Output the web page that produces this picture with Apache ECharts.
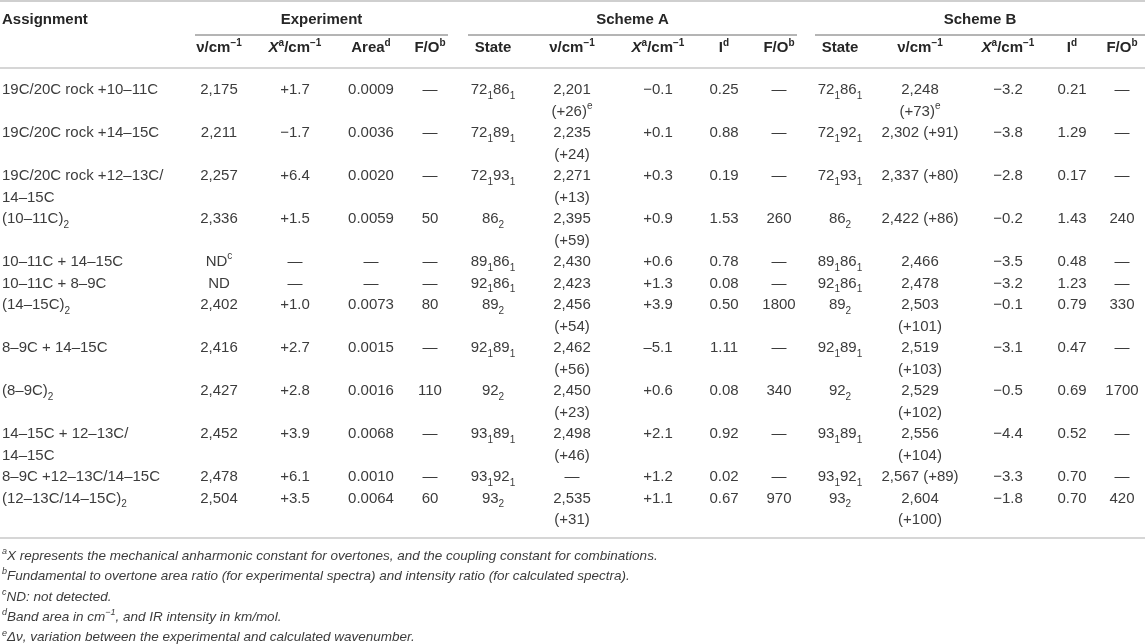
<!DOCTYPE html>
<html>
<head>
<meta charset="utf-8">
<script src="https://cdn.jsdelivr.net/npm/echarts@6/dist/echarts.min.js"></script>
<style>
  html, body { margin: 0; padding: 0; background: #fff; }
  #main { width: 1145px; height: 644px; }
</style>
</head>
<body>
<div id="main"></div>
<script>
// table data, one array per column ({sub|..} / {sup|..} are rich-text tags)
const assignments = [
  '19C/20C rock +10–11C', '19C/20C rock +14–15C', '19C/20C rock +12–13C/\n14–15C',
  '(10–11C){sub|2}', '10–11C + 14–15C', '10–11C + 8–9C', '(14–15C){sub|2}',
  '8–9C + 14–15C', '(8–9C){sub|2}', '14–15C + 12–13C/\n14–15C',
  '8–9C +12–13C/14–15C', '(12–13C/14–15C){sub|2}'
]
const expNu = ['2,175', '2,211', '2,257', '2,336', 'ND{sup|c}', 'ND', '2,402', '2,416', '2,427', '2,452', '2,478', '2,504']
const expX = ['+1.7', '−1.7', '+6.4', '+1.5', '—', '—', '+1.0', '+2.7', '+2.8', '+3.9', '+6.1', '+3.5']
const expArea = ['0.0009', '0.0036', '0.0020', '0.0059', '—', '—', '0.0073', '0.0015', '0.0016', '0.0068', '0.0010', '0.0064']
const expFO = ['—', '—', '—', '50', '—', '—', '80', '—', '110', '—', '—', '60']

const stateA = ['72{sub|1}86{sub|1}', '72{sub|1}89{sub|1}', '72{sub|1}93{sub|1}', '86{sub|2}', '89{sub|1}86{sub|1}',
  '92{sub|1}86{sub|1}', '89{sub|2}', '92{sub|1}89{sub|1}', '92{sub|2}', '93{sub|1}89{sub|1}', '93{sub|1}92{sub|1}', '93{sub|2}']
const nuA = ['2,201\n(+26){sup|e}', '2,235\n(+24)', '2,271\n(+13)', '2,395\n(+59)', '2,430', '2,423',
  '2,456\n(+54)', '2,462\n(+56)', '2,450\n(+23)', '2,498\n(+46)', '—', '2,535\n(+31)']
const xA = ['−0.1', '+0.1', '+0.3', '+0.9', '+0.6', '+1.3', '+3.9', '–5.1', '+0.6', '+2.1', '+1.2', '+1.1']
const iA = ['0.25', '0.88', '0.19', '1.53', '0.78', '0.08', '0.50', '1.11', '0.08', '0.92', '0.02', '0.67']
const foA = ['—', '—', '—', '260', '—', '—', '1800', '—', '340', '—', '—', '970']

const stateB = ['72{sub|1}86{sub|1}', '72{sub|1}92{sub|1}', '72{sub|1}93{sub|1}', '86{sub|2}', '89{sub|1}86{sub|1}',
  '92{sub|1}86{sub|1}', '89{sub|2}', '92{sub|1}89{sub|1}', '92{sub|2}', '93{sub|1}89{sub|1}', '93{sub|1}92{sub|1}', '93{sub|2}']
const nuB = ['2,248\n(+73){sup|e}', '2,302 (+91)', '2,337 (+80)', '2,422 (+86)', '2,466', '2,478',
  '2,503\n(+101)', '2,519\n(+103)', '2,529\n(+102)', '2,556\n(+104)', '2,567 (+89)', '2,604\n(+100)']
const xB = ['−3.2', '−3.8', '−2.8', '−0.2', '−3.5', '−3.2', '−0.1', '−3.1', '−0.5', '−4.4', '−3.3', '−1.8']
const iB = ['0.21', '1.29', '0.17', '1.43', '0.48', '1.23', '0.79', '0.47', '0.69', '0.52', '0.70', '0.70']
const foB = ['—', '—', '—', '240', '—', '—', '330', '—', '1700', '—', '—', '420']

const groupHeads = ['Experiment', 'Scheme A', 'Scheme B']
const colHeads = ['', 'ν/cm{hsup|−1}', '{hit|X}{hsup|a}/cm{hsup|−1}', 'Area{hsup|d}', 'F/O{hsup|b}',
  'State', 'ν/cm{hsup|−1}', '{hit|X}{hsup|a}/cm{hsup|−1}', 'I{hsup|d}', 'F/O{hsup|b}',
  'State', 'ν/cm{hsup|−1}', '{hit|X}{hsup|a}/cm{hsup|−1}', 'I{hsup|d}', 'F/O{hsup|b}']
const footnotes = [
  '{fsup|a}X represents the mechanical anharmonic constant for overtones, and the coupling constant for combinations.',
  '{fsup|b}Fundamental to overtone area ratio (for experimental spectra) and intensity ratio (for calculated spectra).',
  '{fsup|c}ND: not detected.',
  '{fsup|d}Band area in cm{fsup|−1}, and IR intensity in km/mol.',
  '{fsup|e}Δν, variation between the experimental and calculated wavenumber.'
]

const columns = [assignments, expNu, expX, expArea, expFO, stateA, nuA, xA, iA, foA, stateB, nuB, xB, iB, foB]

// layout
const colX = [2, 219, 295, 371, 430, 493, 572, 658, 724, 779, 840, 920, 1008, 1072, 1122]
const groupSpan = [[195, 448], [468, 797], [815, 1145]]
const lineH = 21.5
const FONT = "'Liberation Sans', Arial, Helvetica, sans-serif"
const textColor = '#3c3c3c'
const headColor = '#262626'

// each row takes as many text lines as its tallest cell
const rowStart = []
let lineCount = 0
assignments.forEach((_, r) => {
  rowStart.push(lineCount)
  lineCount += Math.max(...columns.map(col => col[r].split('\n').length))
})
const lineCats = Array.from({ length: lineCount }, (_, i) => 'L' + i)

const cells = []
columns.forEach((col, c) => col.forEach((_, r) => cells.push([c, rowStart[r], r])))

const bodyRich = {
  sub: { fontSize: 10, fontFamily: FONT, fill: textColor, verticalAlign: 'bottom', lineHeight: 13 },
  sup: { fontSize: 10, fontFamily: FONT, fill: textColor, verticalAlign: 'top', lineHeight: 13 }
}
const headRich = {
  hsup: { fontSize: 10, fontFamily: FONT, fontWeight: 'bold', fill: headColor, verticalAlign: 'top', lineHeight: 12 },
  hit: { fontSize: 15, fontFamily: FONT, fontWeight: 'bold', fontStyle: 'italic', fill: headColor, lineHeight: 20 }
}
const footRich = {
  fsup: { fontSize: 9, fontFamily: FONT, fontStyle: 'italic', fill: textColor, verticalAlign: 'top', lineHeight: 11 }
}

const chart = echarts.init(document.getElementById('main'), null, { renderer: 'canvas' })

const rule = (x1, x2, y, w, color) => ({
  type: 'line', silent: true,
  shape: { x1: x1, y1: y, x2: x2, y2: y },
  style: { stroke: color, lineWidth: w }
})
const headText = (x, y, text, align) => ({
  type: 'text', silent: true, x: x, y: y,
  style: {
    text: text, fill: headColor, fontSize: 15, fontWeight: 'bold', fontFamily: FONT,
    align: align, verticalAlign: 'middle', lineHeight: 20, rich: headRich
  }
})

const graphics = [
  rule(0, 1145, 1, 2, '#cfcfcf'),
  rule(0, 1145, 68, 2, '#d6d6d6'),
  rule(0, 1145, 538, 2, '#d6d6d6'),
  headText(2, 20, 'Assignment', 'left')
]
groupHeads.forEach((g, i) => {
  const [a, b] = groupSpan[i]
  graphics.push(headText((a + b) / 2, 20, g, 'center'))
  graphics.push(rule(a, b, 35, 1, '#6a6a6a'))
})
colHeads.forEach((h, c) => {
  if (h) graphics.push(headText(colX[c], 48, h, 'center'))
})
footnotes.forEach((f, i) => {
  graphics.push({
    type: 'text', silent: true, x: 2, y: 556 + i * 20.4,
    style: {
      text: f, fill: textColor, fontSize: 13.5, fontStyle: 'italic', fontFamily: FONT,
      align: 'left', verticalAlign: 'middle', lineHeight: 18, rich: footRich
    }
  })
})

chart.setOption({
  animation: false,
  grid: { left: 0, right: 0, top: 90 - lineH / 2, height: lineH * lineCount },
  xAxis: { type: 'value', min: 0, max: 1145, show: false },
  yAxis: { type: 'category', data: lineCats, inverse: true, show: false },
  graphic: graphics,
  series: [{
    type: 'custom',
    silent: true,
    data: cells,
    renderItem: function (params, api) {
      const c = api.value(0)
      const r = api.value(2)
      const pt = api.coord([colX[c], api.value(1)])
      const half = api.size([0, 1])[1] / 2
      return {
        type: 'text',
        x: pt[0],
        y: pt[1] - half,
        style: {
          text: columns[c][r],
          fill: textColor,
          fontSize: 15,
          fontFamily: FONT,
          align: c === 0 ? 'left' : 'center',
          verticalAlign: 'top',
          lineHeight: lineH,
          rich: bodyRich
        }
      }
    }
  }]
})
</script>
</body>
</html>
